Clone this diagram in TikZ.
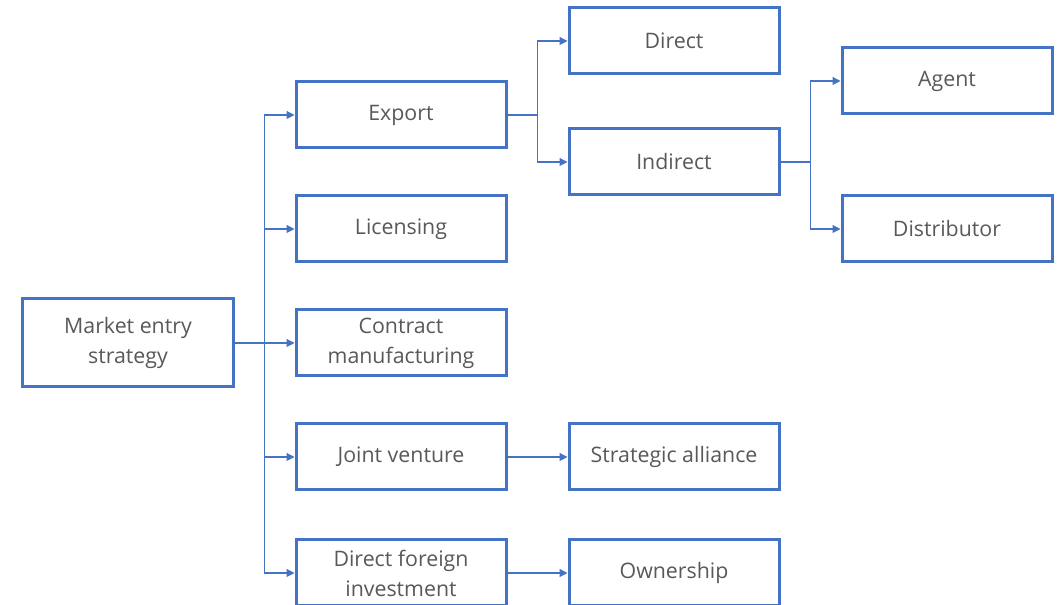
\documentclass[tikz,border=0pt]{standalone}
\usepackage{fontspec}
\setmainfont{Open Sans}
\usetikzlibrary{positioning, arrows.meta, calc}
\definecolor{boxblue}{HTML}{4472C4}
\definecolor{textgrey}{HTML}{595959}
\tikzset{
  node distance=204.75pt and 85.5pt,
  box/.style={draw=boxblue, line width=2.25pt, fill=white,
    minimum width=157.5pt, minimum height=49.5pt, align=center,
    text=textgrey, font=\fontsize{16}{22.5}\selectfont},
  link/.style={draw=boxblue, line width=0.8pt, -{Triangle[length=6pt,width=6pt]}},
}

\begin{document}
\begin{tikzpicture}
      % frame of the picture
      \useasboundingbox (-96pt,257.25pt) rectangle (699.75pt,-196.5pt);
      \clip (-96pt,257.25pt) rectangle (699.75pt,-196.5pt);

      \node[box,minimum height=66pt,minimum width=157.5pt] (market) {Market entry\\strategy};
      \node[box,right of=market,node distance=204.75pt]       (contract) {Contract\\manufacturing};
      \node[box,above of=contract,node distance=85.5pt]       (licensing) {Licensing};
      \node[box,above of=licensing,node distance=85.5pt]      (export) {Export};
      \node[box,below of=contract,node distance=85.5pt]       (jv) {Joint venture};
      \node[box,below of=jv,node distance=87pt]               (dfi) {Direct foreign\\investment};

      \node[box,right of=export,node distance=204.75pt,yshift=55.5pt]   (direct) {Direct};
      \node[box,right of=export,node distance=204.75pt,yshift=-35.25pt] (indirect) {Indirect};
      \node[box,right of=jv,node distance=204.75pt]                     (alliance) {Strategic alliance};
      \node[box,right of=dfi,node distance=204.75pt]                    (ownership) {Ownership};

      \node[box,right of=indirect,node distance=204.75pt,yshift=60.75pt]  (agent) {Agent};
      \node[box,right of=indirect,node distance=204.75pt,yshift=-50.25pt] (distributor) {Distributor};

      \coordinate (bus1) at ($(market.east)!.5!(contract.west)$);
      \coordinate (bus2) at ($(export.east)!.5!(direct.west|-export.east)$);
      \coordinate (bus3) at ($(indirect.east)!.5!(agent.west|-indirect.east)$);

      \foreach \target in {export, licensing, contract, jv, dfi}
        \draw[link] (market.east) -- (bus1) |- (\target.west);
      \foreach \target in {direct, indirect}
        \draw[link] (export.east) -- (bus2) |- (\target.west);
      \foreach \target in {agent, distributor}
        \draw[link] (indirect.east) -- (bus3) |- (\target.west);
      \draw[link] (jv) -- (alliance);
      \draw[link] (dfi) -- (ownership);
\end{tikzpicture}
\end{document}
